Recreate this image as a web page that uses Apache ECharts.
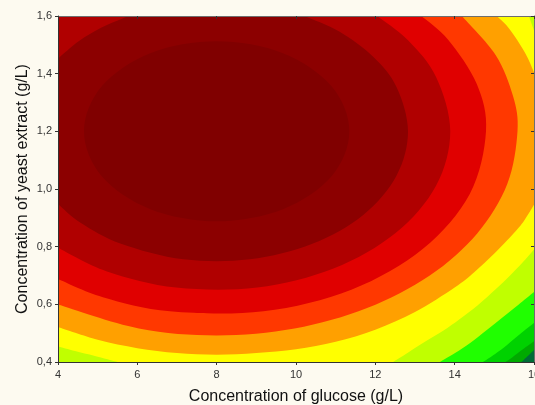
<!DOCTYPE html>
<html>
<head>
<meta charset="utf-8">
<script src="https://cdn.jsdelivr.net/npm/echarts@6/dist/echarts.min.js"></script>
<style>
html, body { margin: 0; padding: 0; background: #fdfaf0; }
#chart { width: 535px; height: 405px; }
</style>
</head>
<body>
<div id="chart"></div>
<script>
// Axis ticks
const glucoseTicks = [4, 6, 8, 10, 12, 14, 16];
const yeastTicks = [0.4, 0.6, 0.8, 1.0, 1.2, 1.4, 1.6];

// Contour boundaries as [glucose g/L, yeast extract g/L]; contour1 is the innermost (closed)
const contour1 = [[11.345,1.200],[10.897,1.356],[9.673,1.471],[8.000,1.512],[6.327,1.471],[5.103,1.356],
  [4.655,1.200],[5.103,1.044],[6.327,0.930],[8.000,0.888],[9.673,0.930],[10.897,1.044]];
const contour2a = [[4.000,1.452],[4.530,1.513],[5.097,1.560],[5.781,1.600]];
const contour2b = [[10.219,1.600],[11.101,1.545],[11.952,1.458],[12.533,1.354],[12.824,1.200],
  [12.533,1.046],[11.695,0.910],[10.412,0.810],[8.837,0.756],[7.163,0.756],[5.588,0.810],
  [4.589,0.881],[4.000,0.948]];
const contour3 = [[12.042,1.600],[12.824,1.516],[13.534,1.388],[13.889,1.200],[13.534,1.012],
  [12.511,0.847],[10.945,0.724],[9.023,0.658],[6.977,0.658],[5.235,0.714],[4.000,0.796]];
const contour4 = [[13.160,1.600],[13.840,1.517],[14.558,1.364],[14.790,1.200],[14.381,0.983],
  [13.201,0.793],[11.395,0.651],[9.179,0.576],[6.821,0.576],[5.131,0.625],[4.000,0.688]];
const contour5 = [[14.180,1.600],[15.032,1.465],[15.469,1.323],[15.584,1.200],[15.326,1.017],
  [14.568,0.846],[13.363,0.699],[11.792,0.587],[9.963,0.516],[8.000,0.492],[6.037,0.516],[4.000,0.599]];
const contour6a = [[15.060,1.600],[15.330,1.564],[15.584,1.515],[15.826,1.459],[16.000,1.405]];
const contour6b = [[16.000,0.945],[15.750,0.890],[15.500,0.848],[15.000,0.776],[14.500,0.712],
  [14.000,0.658],[13.000,0.573],[12.000,0.512],[11.000,0.470],[10.000,0.444],[9.000,0.431],
  [8.000,0.425],[7.000,0.431],[6.000,0.448],[5.000,0.477],[4.000,0.521]];
const contour7a = [[15.870,1.600],[16.000,1.550]];
const contour7b = [[16.000,0.790],[15.700,0.743],[15.390,0.699],[15.040,0.653],[14.590,0.598],
  [14.130,0.549],[13.710,0.508],[13.250,0.470],[12.820,0.432],[12.450,0.400]];
const contour7c = [[5.510,0.400],[4.930,0.421],[4.430,0.438],[4.000,0.455]];
const contour8 = [[16.000,0.643],[15.600,0.598],[15.220,0.556],[14.810,0.511],[14.390,0.466],
  [14.010,0.431],[13.630,0.400]];
const contour9 = [[16.000,0.535],[15.650,0.497],[15.320,0.459],[15.020,0.428],[14.710,0.400]];
const contour10 = [[16.000,0.472],[15.720,0.444],[15.450,0.416],[15.280,0.400]];
const contour11 = [[16.000,0.442],[15.850,0.422],[15.680,0.400]];

// Fill colours from the highest level (centre) down to the lowest
const palette = ['#800000', '#8c0000', '#b00000', '#e00000', '#ff3800', '#ffa000',
  '#ffff00', '#c0ff00', '#20ff00', '#00d200', '#00aa00', '#006c36'];

const gMin = glucoseTicks[0], gMax = glucoseTicks[glucoseTicks.length - 1];
const yMin = yeastTicks[0], yMax = yeastTicks[yeastTicks.length - 1];
const TL = [gMin, yMax], TR = [gMax, yMax], BL = [gMin, yMin], BR = [gMax, yMin];

// Each band is the area at or above a level: runs are smoothed inside and joined along the frame
const bands = [
  { color: palette[11], runs: [[BL], [TL], [TR], [BR]] },
  { color: palette[10], runs: [[BL], [TL], [TR], contour11] },
  { color: palette[9], runs: [[BL], [TL], [TR], contour10] },
  { color: palette[8], runs: [[BL], [TL], [TR], contour9] },
  { color: palette[7], runs: [[BL], [TL], [TR], contour8] },
  { color: palette[6], runs: [[TL], contour7a, contour7b, contour7c] },
  { color: palette[5], runs: [[TL], contour6a, contour6b] },
  { color: palette[4], runs: [[TL], contour5] },
  { color: palette[3], runs: [[TL], contour4] },
  { color: palette[2], runs: [[TL], contour3] },
  { color: palette[1], runs: [contour2a, contour2b] },
  { color: palette[0], runs: [contour1], closed: true }
];

function fmt(n) { return n.toFixed(2); }

// Catmull-Rom segments through pixel points
function splineSegments(p, closed) {
  let d = '';
  const n = p.length;
  const get = (i) => closed ? p[(i + n) % n] : p[Math.max(0, Math.min(n - 1, i))];
  const last = closed ? n : n - 1;
  for (let i = 0; i < last; i++) {
    const p0 = get(i - 1), p1 = get(i), p2 = get(i + 1), p3 = get(i + 2);
    const c1 = [p1[0] + (p2[0] - p0[0]) / 6, p1[1] + (p2[1] - p0[1]) / 6];
    const c2 = [p2[0] - (p3[0] - p1[0]) / 6, p2[1] - (p3[1] - p1[1]) / 6];
    d += 'C' + fmt(c1[0]) + ' ' + fmt(c1[1]) + ' ' + fmt(c2[0]) + ' ' + fmt(c2[1]) + ' ' + fmt(p2[0]) + ' ' + fmt(p2[1]);
  }
  return d;
}

function renderBand(params, api) {
  const band = bands[params.dataIndex];
  let d = '';
  band.runs.forEach((run, ri) => {
    const p = run.map((v) => api.coord(v));
    d += (ri === 0 ? 'M' : 'L') + fmt(p[0][0]) + ' ' + fmt(p[0][1]);
    if (p.length > 2) {
      d += splineSegments(p, !!band.closed);
    } else {
      for (let i = 1; i < p.length; i++) d += 'L' + fmt(p[i][0]) + ' ' + fmt(p[i][1]);
    }
  });
  d += 'Z';
  return {
    type: 'path',
    shape: { pathData: d },
    style: { fill: band.color }
  };
}

const fontFamily = '"Liberation Sans", Arial, sans-serif';
const chart = echarts.init(document.getElementById('chart'), null, { renderer: 'canvas' });

chart.setOption({
  animation: false,
  backgroundColor: '#fdfaf0',
  grid: { left: 58, top: 16, right: 1, bottom: 43, containLabel: false, outerBoundsMode: 'none' },
  xAxis: [
    {
      type: 'value', min: gMin, max: gMax, interval: 2, position: 'bottom', z: 5,
      name: 'Concentration of glucose (g/L)', nameLocation: 'middle', nameGap: 27,
      nameTextStyle: { fontSize: 16, color: '#111', fontFamily: fontFamily },
      axisLine: { show: true, onZero: false, lineStyle: { color: '#333', width: 1 } },
      axisTick: { show: true, length: 3, lineStyle: { color: '#333' } },
      axisLabel: { fontSize: 11, color: '#333', margin: 7, fontFamily: fontFamily, showMaxLabel: true },
      splitLine: { show: false }
    },
    {
      type: 'value', min: gMin, max: gMax, interval: 2, position: 'top', z: 5,
      axisLine: { show: true, onZero: false, lineStyle: { color: '#6e6e6e', width: 1 } },
      axisTick: { show: true, inside: true, length: 3, lineStyle: { color: '#333' } },
      axisLabel: { show: false },
      splitLine: { show: false }
    }
  ],
  yAxis: [
    {
      type: 'value', min: yMin, max: yMax, interval: 0.2, position: 'left', z: 5,
      name: 'Concentration of yeast extract (g/L)', nameLocation: 'middle', nameGap: 27,
      nameMoveOverlap: false,
      nameTextStyle: { fontSize: 16, color: '#111', fontFamily: fontFamily },
      axisLine: { show: true, onZero: false, lineStyle: { color: '#333', width: 1 } },
      axisTick: { show: true, length: 3, lineStyle: { color: '#333' } },
      axisLabel: {
        fontSize: 11, color: '#333', margin: 6, fontFamily: fontFamily,
        formatter: (v) => v.toFixed(1).replace('.', ',')
      },
      splitLine: { show: false }
    },
    {
      type: 'value', min: yMin, max: yMax, interval: 0.2, position: 'right', z: 5,
      axisLine: { show: true, onZero: false, lineStyle: { color: '#6e6e6e', width: 1 } },
      axisTick: { show: true, inside: true, length: 3, lineStyle: { color: '#333' } },
      axisLabel: { show: false },
      splitLine: { show: false }
    }
  ],
  series: [
    {
      type: 'custom',
      xAxisIndex: 0,
      yAxisIndex: 0,
      clip: true,
      silent: true,
      renderItem: renderBand,
      data: bands.map((b, i) => [gMin, yMin, i])
    }
  ]
});
</script>
</body>
</html>
